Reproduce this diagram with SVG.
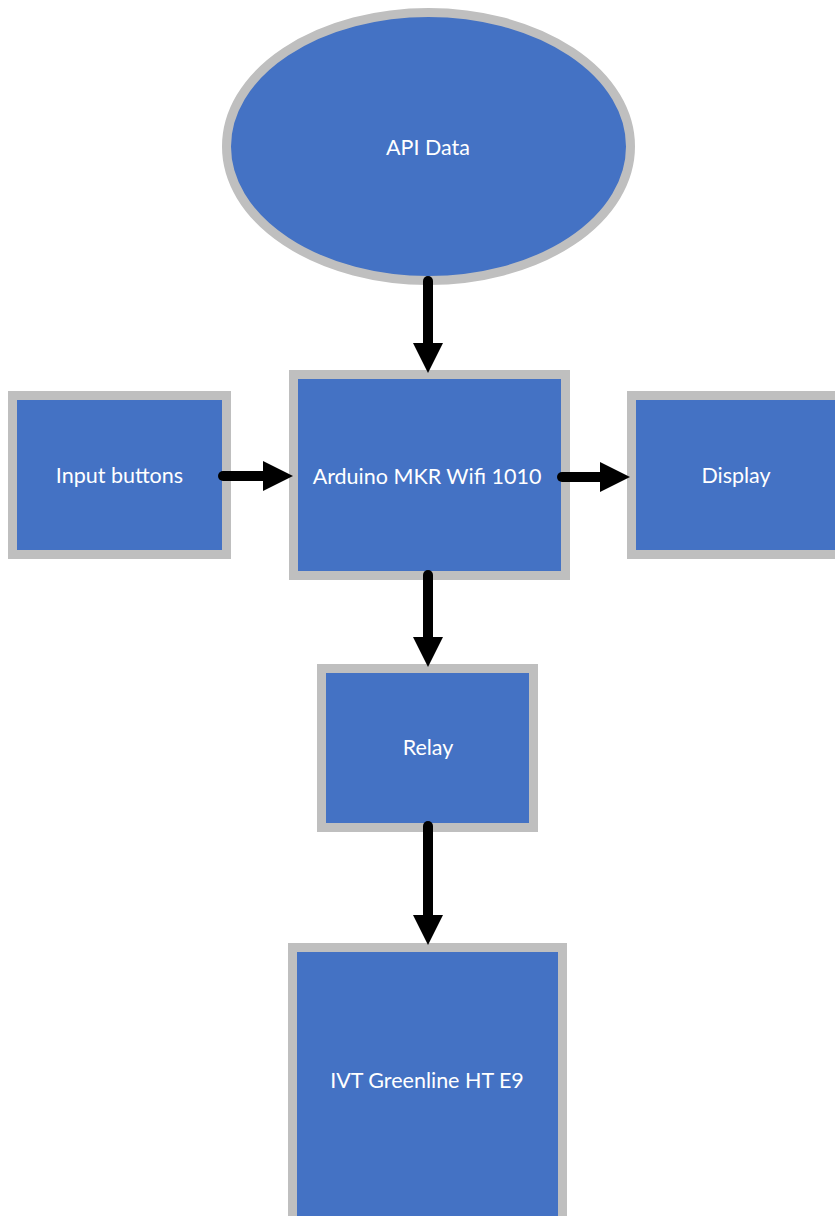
<svg xmlns="http://www.w3.org/2000/svg" width="835" height="1216" viewBox="0 0 835 1216">
<style>
.node{fill:#4472C4;stroke:#BFBFBF;stroke-width:9}
.lbl{fill:#FFFFFF;font-family:Lato,"Open Sans","Liberation Sans",sans-serif;font-size:21.5px;text-anchor:middle}
.edge{stroke:#000000;stroke-width:10;stroke-linecap:round;fill:none;marker-end:url(#ah)}
</style>
<defs>
<marker id="ah" markerUnits="userSpaceOnUse" markerWidth="31" markerHeight="30" refX="2" refY="15" orient="auto" viewBox="0 0 31 30">
<path d="M0,0 L30,15 L0,30 Z" fill="#000000"/>
</marker>
</defs>
<rect width="835" height="1216" fill="#FFFFFF"/>
<g id="api-data">
<ellipse class="node" cx="428.5" cy="146.5" rx="202" ry="134"/>
<text class="lbl" x="428" y="155">API Data</text>
</g>
<g id="input-buttons">
<rect class="node" x="12.5" y="395.5" width="214" height="159"/>
<text class="lbl" x="119.5" y="483">Input buttons</text>
</g>
<g id="arduino">
<rect class="node" x="293.5" y="374.5" width="272" height="201"/>
<text class="lbl" x="427" y="484">Arduino MKR Wifi 1010</text>
</g>
<g id="display">
<rect class="node" x="631.5" y="395.5" width="214" height="159"/>
<text class="lbl" x="736" y="483">Display</text>
</g>
<g id="relay">
<rect class="node" x="321.5" y="668.5" width="212" height="159"/>
<text class="lbl" x="428" y="755">Relay</text>
</g>
<g id="ivt">
<rect class="node" x="292.5" y="947.5" width="270" height="290"/>
<text class="lbl" x="427" y="1088">IVT Greenline HT E9</text>
</g>
<g id="connectors">
<line class="edge" x1="428" y1="281" x2="428" y2="345"/>
<line class="edge" x1="223" y1="476" x2="265" y2="476"/>
<line class="edge" x1="562" y1="477" x2="602" y2="477"/>
<line class="edge" x1="428" y1="575" x2="428" y2="639"/>
<line class="edge" x1="428" y1="826" x2="428" y2="917"/>
</g>
</svg>
